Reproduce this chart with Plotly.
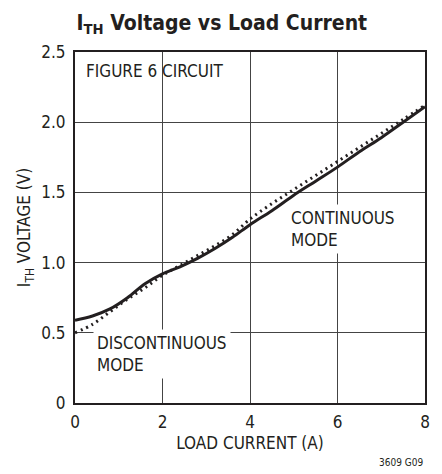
import plotly.graph_objects as go

# Data
x_solid = [0, 0.4, 0.8, 1.2, 1.6, 2.0, 2.4, 2.8, 3.2, 3.6, 4.0, 4.5, 5.0, 5.5, 6.0, 6.5, 7.0, 7.5, 8.0]
y_solid = [0.59, 0.62, 0.67, 0.75, 0.85, 0.92, 0.97, 1.03, 1.10, 1.18, 1.27, 1.37, 1.48, 1.58, 1.68, 1.79, 1.89, 2.00, 2.11]

x_dot = [0, 0.4, 0.8, 1.2, 1.6, 2.0, 2.4, 2.8, 3.2, 3.6, 4.0, 4.5, 5.0, 5.5, 6.0, 6.5, 7.0, 7.5, 8.0]
y_dot = [0.50, 0.56, 0.65, 0.74, 0.82, 0.91, 0.98, 1.05, 1.12, 1.20, 1.31, 1.42, 1.52, 1.62, 1.72, 1.82, 1.92, 2.02, 2.12]

x_ticks = [0, 2, 4, 6, 8]
x_tick_labels = ["0", "2", "4", "6", "8"]
y_ticks = [0, 0.5, 1.0, 1.5, 2.0, 2.5]
y_tick_labels = ["0", "0.5", "1.0", "1.5", "2.0", "2.5"]

FONT = "DejaVu Sans Condensed, Liberation Sans Narrow, sans-serif"
INK = "#231f20"

fig = go.Figure()
fig.add_trace(go.Scatter(x=x_dot, y=y_dot, mode="lines", line=dict(color=INK, width=3, dash="2px,4px", shape="spline"), showlegend=False))
fig.add_trace(go.Scatter(x=x_solid, y=y_solid, mode="lines", line=dict(color=INK, width=3, shape="spline"), showlegend=False))

fig.add_annotation(x=0.026, y=0.945, xref="paper", yref="paper", xanchor="left", yanchor="middle",
                   text="FIGURE 6 CIRCUIT", showarrow=False, font=dict(family=FONT, size=17, color=INK),
                   align="left")
fig.add_annotation(x=0.40, y=0.525, xref="x", yref="y", xanchor="left", yanchor="top",
                   text="DISCONTINUOUS<br>MODE", showarrow=False, font=dict(family=FONT, size=17, color=INK),
                   align="left", bgcolor="white", borderpad=3)
fig.add_annotation(x=4.85, y=1.42, xref="x", yref="y", xanchor="left", yanchor="top",
                   text="CONTINUOUS<br>MODE", showarrow=False, font=dict(family=FONT, size=17, color=INK),
                   align="left", bgcolor="white", borderpad=3)
fig.add_annotation(x=1.0, y=-0.19, xref="paper", yref="paper", xanchor="right", yanchor="bottom",
                   text="3609 G09", showarrow=False, font=dict(family=FONT, size=10, color=INK))

fig.update_layout(
    width=434, height=466,
    margin=dict(l=67, r=15, t=44, b=71),
    paper_bgcolor="white", plot_bgcolor="white",
    font=dict(family=FONT, color=INK),
    title=dict(text="<b>I<sub>TH</sub> Voltage vs Load Current</b>", x=0.158, xanchor="left",
               y=0.985, yanchor="top", font=dict(family=FONT, size=21, color=INK)),
)
fig.update_xaxes(range=[0, 8], tickvals=x_ticks, ticktext=x_tick_labels,
                 showgrid=True, gridcolor="#444", gridwidth=1,
                 showline=True, linecolor=INK, linewidth=2, mirror=True,
                 zeroline=False, ticks="", tickfont=dict(size=17, family=FONT),
                 ticklabelstandoff=3,
                 title=dict(text="LOAD CURRENT (A)", font=dict(size=17, family=FONT), standoff=6))
fig.update_yaxes(range=[0, 2.5], tickvals=y_ticks, ticktext=y_tick_labels,
                 showgrid=True, gridcolor="#444", gridwidth=1,
                 showline=True, linecolor=INK, linewidth=2, mirror=True,
                 zeroline=False, ticks="", tickfont=dict(size=17, family=FONT),
                 ticklabelstandoff=4,
                 title=dict(text="I<sub>TH</sub> VOLTAGE (V)", font=dict(size=17, family=FONT), standoff=6))

fig.write_html("out.html")
